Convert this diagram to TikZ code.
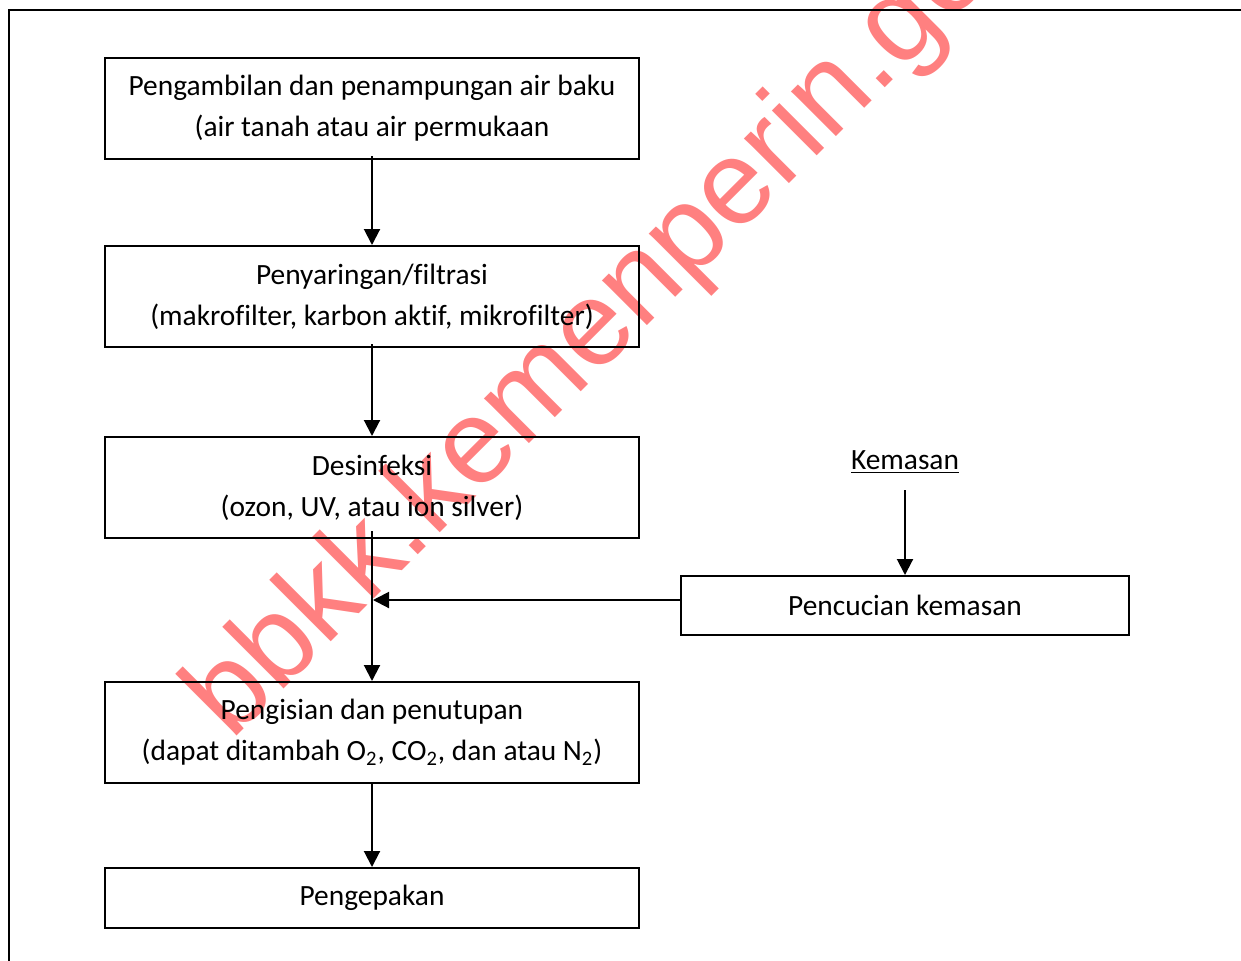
\documentclass[tikz,border=0pt]{standalone}
\usepackage{fontspec}
\setmainfont{Carlito}[Ligatures=NoCommon]
\newfontfamily\wmfont{Liberation Sans}
\usetikzlibrary{arrows.meta}
\definecolor{wm}{RGB}{255,128,128}
\tikzset{
  box/.style={draw, line width=1pt, inner sep=0pt, align=center,
    minimum width=267pt, minimum height=50.5pt, font=\fontsize{14.7}{20.5}\selectfont},
  arr/.style={line width=1pt, -{Triangle[length=8pt,width=8pt]}},
  lbl/.style={inner sep=0pt, font=\fontsize{14.7}{20.5}\selectfont}
}
\begin{document}
\begin{tikzpicture}[x=0.5pt,y=-0.5pt]
\useasboundingbox (0,0) rectangle (1241,960);
\clip (0,0) rectangle (1241,960);
% watermark
\node[rotate=45, anchor=base west, text=wm, inner sep=0pt,
  font=\wmfont\fontsize{60}{60}\selectfont] (wmark) at (231,742) {bbkk.kemenperin.go};
% frame
\draw[line width=1.4pt] (9,962) -- (9,10) -- (1245,10);
% boxes
\node[box] (b1) at (372,108.5) {Pengambilan dan penampungan air baku\\(air tanah atau air permukaan};
\node[box] (b2) at (372,296.5) {Penyaringan/filtrasi\\(makrofilter, karbon aktif, mikrofilter)};
\node[box] (b3) at (372,487.5) {Desinfeksi\\(ozon, UV, atau ion silver)};
\node[box] (b4) at (372,732.5) {Pengisian dan penutupan\\(dapat ditambah O\textsubscript{2}, CO\textsubscript{2}, dan atau N\textsubscript{2})};
\node[box, minimum height=30pt] (b5) at (372,898) {Pengepakan};
\node[box, minimum width=224pt, minimum height=29.5pt] (p) at (905,605.5) {Pencucian kemasan};
\node[lbl] (k) at (905,462) {\underline{Kemasan}};
\coordinate (ks) at (905,490);
\coordinate (j) at (373,600);
% connectors
\draw[arr] ([yshift=2pt]b1.south) -- (b2.north);
\draw[arr] ([yshift=2pt]b2.south) -- (b3.north);
\draw[arr] ([yshift=4pt]b3.south) -- (b4.north);
\draw[arr] ([yshift=1pt]b4.south) -- (b5.north);
\draw[arr] (ks) -- (p.north);
\draw[arr] (p.west |- j) -- (j);
\end{tikzpicture}
\end{document}
